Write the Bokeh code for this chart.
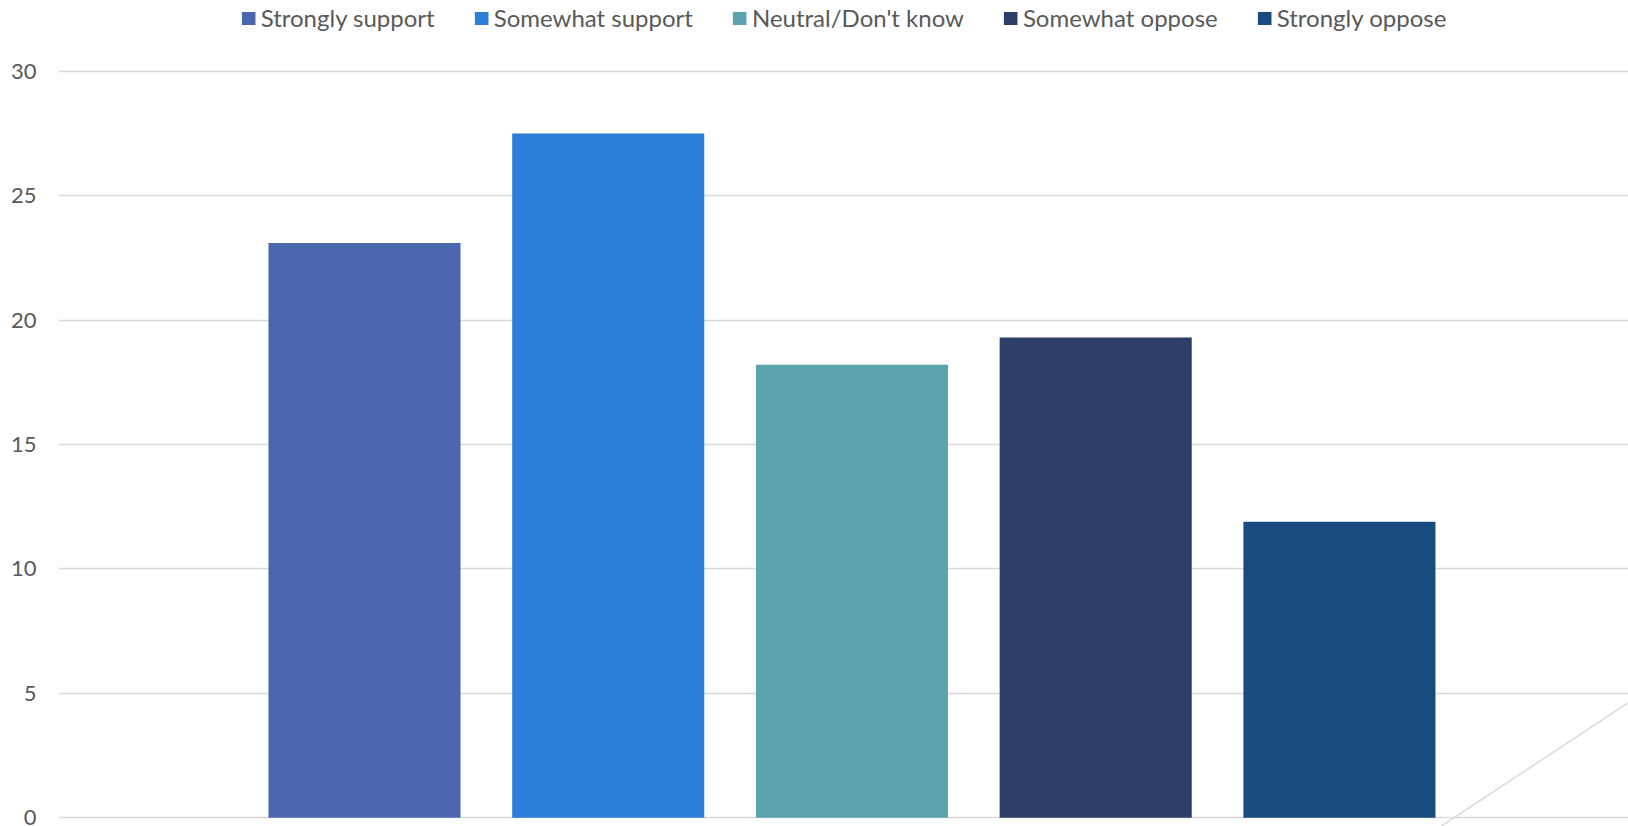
from bokeh.plotting import figure
from bokeh.models import ColumnDataSource, FixedTicker, Legend, LegendItem
from bokeh.embed import file_html
from bokeh.resources import INLINE

# ---- data ----
categories = ["Strongly support", "Somewhat support", "Neutral/Don't know",
              "Somewhat oppose", "Strongly oppose"]
values = [23.1, 27.5, 18.2, 19.3, 11.9]
colors = ["#4A67AD", "#2B7FD8", "#5BA3AF", "#2D3E69", "#1A4B7E"]
y_ticks = [0, 5, 10, 15, 20, 25, 30]
# stray light-grey line at the lower right of the original chart
line_x = [4.30, 5.30]
line_y = [-1.10, 5.37]

FONT = "Lato"
TEXT_COLOR = "#595959"
GRID_COLOR = "#D9D9D9"

positions = list(range(len(categories)))

p = figure(width=1628, height=826, output_backend="svg", toolbar_location=None,
           x_range=(-1.2554, 5.186), y_range=(-0.35, 32.84),
           x_axis_location=None,
           min_border_left=58, min_border_right=0, min_border_top=0, min_border_bottom=0)
p.outline_line_color = None
p.background_fill_color = "white"
p.border_fill_color = "white"

p.xgrid.grid_line_color = None
p.ygrid.grid_line_color = GRID_COLOR
p.ygrid.grid_line_width = 1.5
p.yaxis.ticker = FixedTicker(ticks=y_ticks)
p.yaxis.axis_line_color = None
p.yaxis.major_tick_line_color = None
p.yaxis.minor_tick_line_color = None
p.yaxis.major_label_text_font = FONT
p.yaxis.major_label_text_font_size = "22px"
p.yaxis.major_label_text_color = TEXT_COLOR
p.yaxis.major_label_standoff = 16

p.line(line_x, line_y, line_color=GRID_COLOR, line_width=1.5)

items = []
for i, (cat, val, col) in enumerate(zip(categories, values, colors)):
    src = ColumnDataSource(dict(x=[positions[i]], top=[val]))
    r = p.vbar(x="x", top="top", bottom=0, width=0.788, source=src,
               fill_color=col, line_color=None)
    items.append(LegendItem(label=cat, renderers=[r]))

legend = Legend(items=items, orientation="horizontal", location="top_center",
                margin=3, padding=0, spacing=38, label_standoff=4,
                glyph_width=17, glyph_height=16,
                label_text_font=FONT, label_text_font_size="24px",
                label_text_color=TEXT_COLOR,
                background_fill_alpha=0, border_line_color=None)
p.add_layout(legend, "center")

open("out.html", "w").write(file_html(p, INLINE))
